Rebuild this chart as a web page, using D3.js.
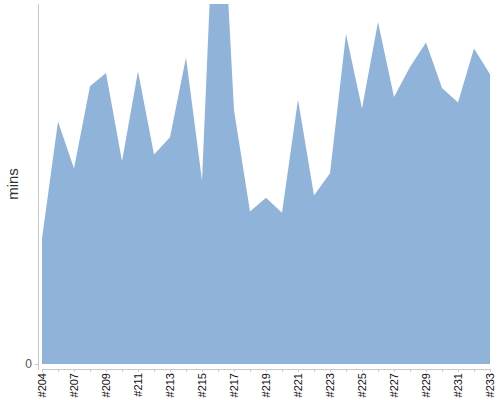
<!DOCTYPE html>
<html>
<head>
<meta charset="utf-8">
<script src="https://cdn.jsdelivr.net/npm/d3@7"></script>
<style>
  body { margin: 0; background: #fff; }
  text { font-family: "Liberation Sans", Arial, sans-serif; }
</style>
</head>
<body>
<div id="chart"></div>
<script>
// issue numbers (#205 missing in the source)
const issues = ["#204", "#206", "#207", "#208", "#209", "#210", "#211", "#212", "#213", "#214",
  "#215", "#216", "#217", "#218", "#219", "#220", "#221", "#222", "#223", "#224",
  "#225", "#226", "#227", "#228", "#229", "#230", "#231", "#232", "#233"];
// minutes per issue
const mins = [20.9, 40.4, 32.6, 46.3, 48.5, 33.8, 48.8, 34.9, 37.8, 51.1,
  30.6, 92.8, 42.3, 25.4, 27.7, 25.2, 44.1, 28.1, 31.8, 55.0,
  42.6, 57.0, 44.5, 49.5, 53.6, 46.0, 43.6, 52.6, 48.3];
const tickLabels = issues.filter((d, i) => i % 2 === 0);
const yMax = 60;

const colors = {
  area: "#90b3da",
  axis: "#c8c8c8",
  text: "#333333"
};

const width = 500, height = 400;
const plot = { left: 42, right: 490, top: 4, bottom: 364 };

const svg = d3.select("#chart")
  .append("svg")
  .attr("width", width)
  .attr("height", height);

const x = d3.scalePoint()
  .domain(issues)
  .range([plot.left, plot.right]);

const y = d3.scaleLinear()
  .domain([0, yMax])
  .range([plot.bottom, plot.top]);

const data = issues.map((d, i) => ({ issue: d, value: mins[i] }));

// clip so the big spike is cut at the top
svg.append("clipPath")
  .attr("id", "plot-clip")
  .append("rect")
  .attr("x", plot.left)
  .attr("y", plot.top)
  .attr("width", plot.right - plot.left)
  .attr("height", plot.bottom - plot.top);

const area = d3.area()
  .x(d => x(d.issue))
  .y0(y(0))
  .y1(d => y(d.value));

svg.append("path")
  .datum(data)
  .attr("clip-path", "url(#plot-clip)")
  .attr("fill", colors.area)
  .attr("d", area);

// y axis, offset a few px left of the area
const yAxis = svg.append("g")
  .attr("transform", `translate(${plot.left - 4},0)`)
  .call(d3.axisLeft(y).tickValues([0]).tickSize(3).tickSizeOuter(0));
yAxis.select(".domain")
  .attr("d", `M0.5,${plot.top}V${plot.bottom + 6}`)
  .attr("stroke", colors.axis);
yAxis.selectAll(".tick line").attr("stroke", colors.axis);
yAxis.selectAll(".tick text")
  .attr("fill", "#555")
  .style("font-size", "12px");

// x axis, a few px below the baseline
const xAxis = svg.append("g")
  .attr("transform", `translate(0,${plot.bottom + 5})`)
  .call(d3.axisBottom(x).tickSize(3).tickSizeOuter(0)
    .tickFormat(d => tickLabels.includes(d) ? d : ""));
xAxis.select(".domain").attr("stroke", colors.axis);
xAxis.selectAll(".tick line").attr("stroke", colors.axis);
xAxis.selectAll(".tick text")
  .attr("fill", "#111")
  .style("font-size", "11px")
  .attr("text-anchor", "end")
  .attr("transform", "rotate(-90)")
  .attr("x", -4)
  .attr("y", 0)
  .attr("dy", "0.35em");

// axis title
svg.append("text")
  .attr("transform", `translate(18,${(plot.top + plot.bottom) / 2}) rotate(-90)`)
  .attr("text-anchor", "middle")
  .attr("fill", colors.text)
  .style("font-size", "15px")
  .text("mins");
</script>
</body>
</html>
